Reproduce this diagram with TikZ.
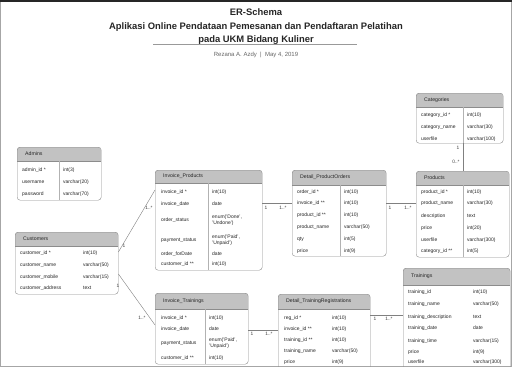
\documentclass[tikz,border=0pt]{standalone}
\usepackage{fontspec}
\setmainfont{Liberation Sans}
\usetikzlibrary{calc}

\begin{document}
\begin{tikzpicture}[
  x=1pt, y=-1pt,
  font=\fontsize{5.2}{6}\selectfont,
  tbl/.style={draw=black!45,rounded corners=3pt,anchor=north west,inner sep=0pt},
  hdr/.style={anchor=west,text=black!85,inner sep=0pt},
  fld/.style={anchor=west,text=black!85,align=left,inner sep=0pt,font=\fontsize{5}{5.6}\selectfont},
  card/.style={text=black!75,inner sep=0pt,font=\fontsize{4.8}{5}\selectfont},
  rel/.style={draw=black!50,line width=0.4pt},
  sep/.style={draw=black!30,line width=0.4pt}
]
\clip (0,0) rectangle (512,367);
\fill[white] (0,0) rectangle (512,367);
\draw[black!35] (0.5,0.5) rectangle (511.5,366.5);
\draw[black!85,line width=2pt] (0,1) -- (512,1);

% title block
\node[align=center,text=black!85,font=\bfseries\fontsize{9.4}{13.5}\selectfont] (title) at (256,27)
  {ER-Schema\\Aplikasi Online Pendataan Pemesanan dan Pendaftaran Pelatihan\\pada UKM Bidang Kuliner};
\draw[black!40] (153,44) -- (357,44);
\node[text=black!60,font=\fontsize{6}{7}\selectfont] (author) at (256,55) {Rezana A. Azdy \ | \ May 4, 2019};

% tables: outline with grey header
\foreach \t/\n/\x/\y/\w/\h/\hh in {
    admins/Admins/17/147/84/53/14,
    cust/Customers/15/232/103/62/14,
    invp/Invoice\_Products/155/170/107/100/13,
    invt/Invoice\_Trainings/155/293/93/71/16,
    dpo/Detail\_ProductOrders/292/170/94/86/15,
    dtr/Detail\_TrainingRegistrations/278/294/92/85/15,
    cat/Categories/416/93/87/50/14,
    prod/Products/416/171/93/86/14,
    trn/Trainings/403/268/107/110/17}{
  \begin{scope}
    \clip[rounded corners=3pt] (\x,\y) rectangle ++(\w,\h);
    \fill[black!24] (\x,\y) rectangle ++(\w,\hh);
  \end{scope}
  \draw[black!45] (\x,{\y+\hh}) -- ++(\w,0);
  \node[tbl,minimum width=\w pt,minimum height=\h pt] (\t) at (\x,\y) {};
  \node[hdr] (\t-h) at ({\x+8},{\y+\hh/2}) {\n};
}

% column dividers
\foreach \d/\ya/\yb in {59/161/200, 208/183/270, 205/309/364, 340/185/256, 463/107/143, 463/185/257}
  \draw[sep] (\d,\ya) -- (\d,\yb);

% rows
\foreach \k/\v/\r [count=\i] in {admin\_id */int(3)/170, username/varchar(20)/182, password/varchar(70)/194}{
  \node[fld] (admins-k\i) at (22,\r) {\k};
  \node[fld] (admins-v\i) at (63,\r) {\v};
}
\foreach \k/\v/\r [count=\i] in {customer\_id */int(10)/253, customer\_name/varchar(50)/265,
    customer\_mobile/varchar(15)/277, customer\_address/text/288}{
  \node[fld] (cust-k\i) at (20,\r) {\k};
  \node[fld] (cust-v\i) at (83,\r) {\v};
}
\foreach \k/\v/\r [count=\i] in {invoice\_id */int(10)/192, invoice\_date/date/204,
    order\_status/{enum('Done',\\'Undone')}/220, payment\_status/{enum('Paid',\\'Unpaid')}/240,
    order\_forDate/date/254, customer\_id **/int(10)/264}{
  \node[fld] (invp-k\i) at (161,\r) {\k};
  \node[fld] (invp-v\i) at (212,\r) {\v};
}
\foreach \k/\v/\r [count=\i] in {invoice\_id */int(10)/318, invoice\_date/date/329,
    payment\_status/{enum('Paid',\\'Unpaid')}/343, customer\_id **/int(10)/358}{
  \node[fld] (invt-k\i) at (161,\r) {\k};
  \node[fld] (invt-v\i) at (209,\r) {\v};
}
\foreach \k/\v/\r [count=\i] in {order\_id */int(10)/192, invoice\_id **/int(10)/203, product\_id **/int(10)/215,
    product\_name/varchar(50)/227, qty/int(5)/239, price/int(9)/251}{
  \node[fld] (dpo-k\i) at (297,\r) {\k};
  \node[fld] (dpo-v\i) at (344,\r) {\v};
}
\foreach \k/\v/\r [count=\i] in {reg\_id */int(10)/318, invoice\_id **/int(10)/329, training\_id **/int(10)/340,
    training\_name/varchar(50)/351, price/int(9)/362}{
  \node[fld] (dtr-k\i) at (284,\r) {\k};
  \node[fld] (dtr-v\i) at (332,\r) {\v};
}
\foreach \k/\v/\r [count=\i] in {category\_id */int(10)/115, category\_name/varchar(30)/127, userfile/varchar(100)/139}{
  \node[fld] (cat-k\i) at (421,\r) {\k};
  \node[fld] (cat-v\i) at (467,\r) {\v};
}
\foreach \k/\v/\r [count=\i] in {product\_id */int(10)/192, product\_name/varchar(30)/203, description/text/216,
    price/int(20)/228, userfile/varchar(300)/240, category\_id **/int(5)/251}{
  \node[fld] (prod-k\i) at (421,\r) {\k};
  \node[fld] (prod-v\i) at (467,\r) {\v};
}
\foreach \k/\v/\r [count=\i] in {training\_id/int(10)/292, training\_name/varchar(50)/304,
    training\_description/text/317, training\_date/date/328, training\_time/varchar(15)/341,
    price/int(9)/352, userfile/varchar(300)/362}{
  \node[fld] (trn-k\i) at (408,\r) {\k};
  \node[fld] (trn-v\i) at (473,\r) {\v};
}

% relations
\draw[rel] ([yshift=-20pt]cust.north east) -- ([yshift=-20pt]invp.north west);
\draw[rel] ([yshift=-42pt]cust.north east) -- ([yshift=-32pt]invt.north west);
\draw[rel] ([yshift=-33pt]invp.north east) -- ([yshift=-33pt]dpo.north west);
\draw[rel] ([yshift=-33pt]dpo.north east) -- ([yshift=-32pt]prod.north west);
\draw[rel] (cat.south -| prod.north) -- (prod.north);
\draw[rel] ([yshift=-37pt]invt.north east) -- ([yshift=-36pt]dtr.north west);
\draw[rel] ([yshift=-21pt]dtr.north east) -- ([yshift=-47pt]trn.north west);

% multiplicities
\node[card] (m1a) at (124,246) {1};
\node[card] (m1b) at (149,208) {1..*};
\node[card] (m2a) at (118,286) {1};
\node[card] (m2b) at (142,318) {1..*};
\node[card] (m3a) at (266,208) {1};
\node[card] (m3b) at (283,208) {1..*};
\node[card] (m4a) at (390,208) {1};
\node[card] (m4b) at (408,208) {1..*};
\node[card] (m5a) at (458,148) {1};
\node[card] (m5b) at (456,162) {0..*};
\node[card] (m6a) at (252,334) {1};
\node[card] (m6b) at (269,334) {1..*};
\node[card] (m7a) at (375,319) {1};
\node[card] (m7b) at (389,319) {1..*};
\end{tikzpicture}
\end{document}
